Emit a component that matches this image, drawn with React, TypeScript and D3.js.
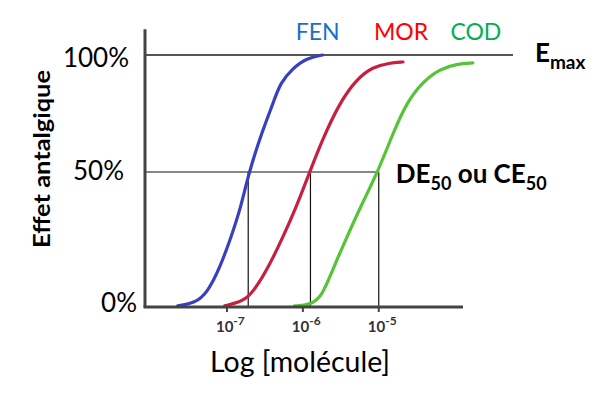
import React from 'react';
import * as d3 from 'd3';

// log10 of concentration, effect in %
const fenLog = [-7.65, -7.42, -7.26, -7.09, -6.96, -6.83, -6.71, -6.53, -6.39, -6.3, -6.13, -5.95, -5.74];
const fenEffect = [0.4, 1.5, 5.2, 14.8, 24.8, 35.5, 50, 67.9, 79.5, 88, 94.4, 98.7, 100];
const morLog = [-7.03, -6.83, -6.7, -6.47, -6.26, -6.08, -5.91, -5.74, -5.51, -5.29, -5.08, -4.86, -4.68];
const morEffect = [0.4, 1.9, 3.7, 13.7, 26, 37.5, 50, 64.1, 79.9, 89.7, 94.9, 96.6, 97];
const codLog = [-6.11, -5.91, -5.75, -5.61, -5.42, -5.25, -5.0, -4.82, -4.63, -4.42, -4.2, -3.97, -3.76];
const codEffect = [0.4, 0.7, 3.7, 13.7, 25.9, 36.5, 51, 66, 79.9, 88.5, 94, 96.2, 96.6];

const drugs = ['FEN', 'MOR', 'COD'];
const drugColors = ['#3a40bd', '#c62040', '#55c436'];
const labelColors = ['#1a6fc7', '#ff0000', '#00b050'];
// DE50 of each drug (log10)
const de50Log = [-6.72, -5.9, -5.0];

const yTicks = [0, 50, 100];
const yTickLabels = ['0%', '50%', '100%'];
const xTicks = [-7, -6, -5];
const xTickLabels = ['-7', '-6', '-5'];

const W = 616;
const H = 398;

export default function App() {
  const x = d3.scaleLinear().domain([-8.08, -3.89]).range([145, 463]);
  const y = d3.scaleLinear().domain([0, 50, 100]).range([307, 172, 55]);

  const series = [
    fenLog.map((v, i) => [v, fenEffect[i]]),
    morLog.map((v, i) => [v, morEffect[i]]),
    codLog.map((v, i) => [v, codEffect[i]]),
  ];
  const line = d3
    .line<number[]>()
    .x((d) => x(d[0]))
    .y((d) => y(d[1]))
    .curve(d3.curveBasis);

  const font = 'Lato, "Open Sans", sans-serif';
  const x0 = x.range()[0];
  const yBase = y(0);
  const emaxEnd = 513;
  // small per-label nudges to sit like the original
  const yLabelPos: Record<number, [number, number]> = { 0: [137, 5], 50: [124, 8], 100: [129, 12] };
  const nameNudge = [-5, -2, 3];

  return (
    <svg width={W} height={H} style={{ position: 'absolute', left: 0, top: 0, background: '#fff' }} fontFamily={font}>
      {/* Emax reference line */}
      <line x1={x0} x2={emaxEnd} y1={y(100)} y2={y(100)} stroke="#555" strokeWidth={2} />
      {/* 50% line up to last DE50 */}
      <line x1={x0} x2={x(d3.max(de50Log)!)} y1={y(50)} y2={y(50)} stroke="#111" strokeWidth={1.2} />
      {de50Log.map((v, i) => (
        <line key={i} x1={x(v)} x2={x(v)} y1={y(50)} y2={yBase} stroke="#111" strokeWidth={1.2} />
      ))}

      {/* curves */}
      {series.map((s, i) => (
        <path key={i} d={line(s) || ''} fill="none" stroke={drugColors[i]} strokeWidth={3.2} strokeLinecap="round" />
      ))}

      {/* axes */}
      <line x1={x0} x2={x0} y1={y(111)} y2={yBase} stroke="#444" strokeWidth={3} />
      <line x1={x0 - 1.5} x2={x.range()[1]} y1={yBase} y2={yBase} stroke="#444" strokeWidth={3} />
      {xTicks.map((t, i) => (
        <g key={t}>
          <line x1={x(t)} x2={x(t)} y1={yBase} y2={yBase + 5} stroke="#444" strokeWidth={2} />
          <text x={x(t) - 11} y={yBase + 25} fontSize={15} fontWeight={700} fill="#333">
            10
            <tspan dy={-7} fontSize={12}>{xTickLabels[i]}</tspan>
          </text>
        </g>
      ))}

      {yTicks.map((t, i) => (
        <text key={t} x={yLabelPos[t][0]} y={y(t) + yLabelPos[t][1]} fontSize={26} textAnchor="end" fill="#000">
          {yTickLabels[i]}
        </text>
      ))}

      {/* series labels */}
      {drugs.map((d, i) => {
        const s = series[i];
        return (
          <text key={d} x={x(s[s.length - 1][0]) + nameNudge[i]} y={40} fontSize={23} textAnchor="middle" fill={labelColors[i]}>
            {d}
          </text>
        );
      })}

      {/* annotations */}
      <text x={emaxEnd + 22} y={y(100) + 7} fontSize={26} fontWeight={700}>
        E<tspan dy={7} fontSize={19}>max</tspan>
      </text>
      <text x={x(de50Log[2]) + 17} y={y(50) + 11} fontSize={26} fontWeight={700}>
        DE<tspan dy={7} fontSize={18}>50</tspan>
        <tspan dy={-7}> ou CE</tspan>
        <tspan dy={7} fontSize={18}>50</tspan>
      </text>

      {/* axis titles */}
      <text x={300} y={372} fontSize={28} textAnchor="middle" textLength={180} lengthAdjust="spacingAndGlyphs">
        Log [molécule]
      </text>
      <text
        transform={`translate(50,159) rotate(-90)`}
        fontSize={23}
        fontWeight={700}
        textAnchor="middle"
        textLength={178}
        lengthAdjust="spacingAndGlyphs"
      >
        Effet antalgique
      </text>
    </svg>
  );
}
